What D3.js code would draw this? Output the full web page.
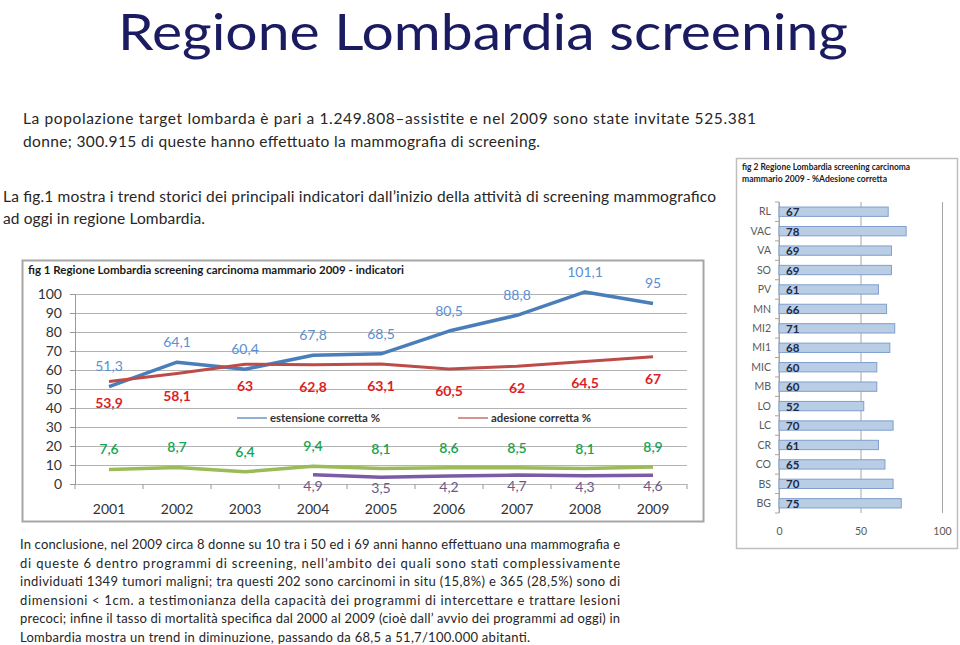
<!DOCTYPE html>
<html><head><meta charset="utf-8">
<script src="https://cdn.jsdelivr.net/npm/d3@7"></script>
<style>body{margin:0;background:#fff}svg{display:block}</style>
</head><body>
<svg id="c" width="960" height="645"></svg>
<script>
// ---- data ----
const years = ["2001","2002","2003","2004","2005","2006","2007","2008","2009"];
const estensione = [51.3,64.1,60.4,67.8,68.5,80.5,88.8,101.1,95];
const adesione = [53.9,58.1,63,62.8,63.1,60.5,62,64.5,67];
const serieVerde = [7.6,8.7,6.4,9.4,8.1,8.6,8.5,8.1,8.9];
const serieViola = [null,null,null,4.9,3.5,4.2,4.7,4.3,4.6];
const yTicks1 = [0,10,20,30,40,50,60,70,80,90,100];
const aree = ["RL","VAC","VA","SO","PV","MN","MI2","MI1","MIC","MB","LO","LC","CR","CO","BS","BG"];
const adesioneAree = [67,78,69,69,61,66,71,68,60,60,52,70,61,65,70,75];
const xTicks2 = [0,50,100];

const FONT = "Lato, 'Open Sans', sans-serif";
const svg = d3.select("#c").style("font-family", FONT);

// ---- title & text ----
svg.append("text").attr("x",118).attr("y",50).attr("font-size",50).attr("fill","#1b1b62")
  .attr("textLength",730).attr("lengthAdjust","spacingAndGlyphs").text("Regione Lombardia screening");

function line(x,y,txt,size,len){
  const t = svg.append("text").attr("x",x).attr("y",y).attr("font-size",size).attr("fill","#262626").text(txt);
  if(len) t.attr("textLength",len).attr("lengthAdjust","spacing");
  return t;
}
line(23,124,"La popolazione target lombarda è pari a 1.249.808–assistite e nel 2009 sono state invitate 525.381",15.5,733);
line(23,147,"donne;  300.915 di queste hanno effettuato la mammografia di screening.",15.5,517);
line(3,202,"La fig.1 mostra i trend storici dei principali indicatori dall’inizio della attività di screening mammografico",15.5,713);
line(3,224,"ad oggi in regione Lombardia.",15.5,202);

const bottom = [
 ["In conclusione, nel 2009 circa 8 donne su 10 tra i 50 ed i 69 anni hanno effettuano una mammografia e",600],
 ["di queste 6 dentro programmi di screening, nell’ambito dei quali sono stati complessivamente",600],
 ["individuati 1349 tumori maligni; tra questi 202 sono carcinomi in situ (15,8%) e 365 (28,5%) sono di",600],
 ["dimensioni < 1cm. a testimonianza della capacità dei  programmi di intercettare  e trattare lesioni",600],
 ["precoci; infine il tasso di mortalità specifica  dal 2000 al 2009 (cioè dall’ avvio dei programmi ad oggi) in",600],
 ["Lombardia mostra un trend in diminuzione,  passando da 68,5 a 51,7/100.000 abitanti.",510]
];
bottom.forEach((b,i)=> line(20,549+i*18.5,b[0],13,b[1]));

// ---- fig 1 ----
const g1 = svg.append("g");
g1.append("rect").attr("x",22.5).attr("y",260.5).attr("width",681).attr("height",261)
  .attr("fill","#fff").attr("stroke","#a6a6a6").attr("stroke-width",2);
g1.append("text").attr("x",28).attr("y",274).attr("font-size",11).attr("font-weight",700).attr("fill","#1a1a1a")
  .attr("textLength",376).attr("lengthAdjust","spacingAndGlyphs")
  .text("fig 1 Regione Lombardia screening carcinoma mammario  2009 - indicatori");

const x1 = d3.scaleBand().domain(years).range([75,687]);
const y1 = d3.scaleLinear().domain([0,100]).range([484,294]);
const cx = d => x1(d) + x1.bandwidth()/2;

// grid
g1.append("g").attr("transform","translate(75,0)")
  .call(d3.axisLeft(y1).tickValues(yTicks1).tickSize(-612).tickFormat(""))
  .call(g=>{g.select(".domain").remove(); g.selectAll("line").attr("stroke","#b3b3b3");});
// y axis
g1.append("g").attr("transform","translate(75,0)")
  .call(d3.axisLeft(y1).tickValues(yTicks1).tickSize(5).tickPadding(8).tickFormat(d3.format("d")))
  .call(g=>{g.select(".domain").attr("stroke","#999");
    g.selectAll("line").attr("stroke","#999");
    g.selectAll("text").attr("font-size",14).attr("fill","#333").attr("font-family",FONT);});
// x axis
g1.append("g").attr("transform","translate(0,484)")
  .call(d3.axisBottom(x1).tickSize(0).tickPadding(20))
  .call(g=>{g.select(".domain").remove();
    g.selectAll("text").attr("font-size",14).attr("fill","#333").attr("font-family",FONT);});
g1.append("g").selectAll("line").data(years.concat(["end"])).join("line")
  .attr("x1",d=> d==="end"? x1.range()[1] : x1(d)).attr("x2",d=> d==="end"? x1.range()[1] : x1(d))
  .attr("y1",484).attr("y2",489).attr("stroke","#999");

const series = [
  {vals:estensione, stroke:"#4a7ebb", lab:"#5b8fd0", w:3.5, dy:-20, bold:400},
  {vals:adesione,   stroke:"#be4b48", lab:"#dc1f26", w:3,   dy:22,  bold:700},
  {vals:serieVerde, stroke:"#9bbb59", lab:"#12a54f", w:3.5, dy:-20, bold:600},
  {vals:serieViola, stroke:"#7b5ba6", lab:"#6a5a8a", w:3.5, dy:11,  bold:400}
];
const fmt = v => String(v).replace(".",",");
series.forEach(s=>{
  const pts = years.map((yr,i)=>({yr, v:s.vals[i]}));
  const ln = d3.line().defined(d=>d.v!=null).x(d=>cx(d.yr)).y(d=>y1(d.v));
  g1.append("path").datum(pts).attr("d",ln).attr("fill","none")
    .attr("stroke",s.stroke).attr("stroke-width",s.w).attr("stroke-linejoin","round");
  g1.append("g").selectAll("text").data(pts.filter(d=>d.v!=null)).join("text")
    .attr("x",d=>cx(d.yr)).attr("y",d=>y1(d.v)+s.dy).attr("dy","0.35em")
    .attr("text-anchor","middle").attr("font-size",14).attr("font-weight",s.bold)
    .attr("fill",s.lab).text(d=>fmt(d.v));
});

// legend
const legend = [
  {x:237, label:"estensione corretta %", c:"#4a7ebb", len:110},
  {x:458, label:"adesione corretta %", c:"#be4b48", len:100}
];
legend.forEach(l=>{
  g1.append("line").attr("x1",l.x).attr("x2",l.x+30).attr("y1",418).attr("y2",418).attr("stroke",l.c).attr("stroke-width",1.2);
  g1.append("text").attr("x",l.x+33).attr("y",418).attr("dy","0.35em").attr("font-size",10.5).attr("font-weight",700)
    .attr("fill","#333").attr("textLength",l.len).attr("lengthAdjust","spacingAndGlyphs").text(l.label);
});

// ---- fig 2 ----
const g2 = svg.append("g");
g2.append("rect").attr("x",736.5).attr("y",158.5).attr("width",221).attr("height",390)
  .attr("fill","#fff").attr("stroke","#bfbfbf").attr("stroke-width",1.5);
g2.append("text").attr("x",742).attr("y",170).attr("font-size",8.5).attr("font-weight",700).attr("fill","#222")
  .attr("textLength",168).attr("lengthAdjust","spacingAndGlyphs").text("fig 2 Regione Lombardia screening carcinoma");
g2.append("text").attr("x",742).attr("y",182).attr("font-size",8.5).attr("font-weight",700).attr("fill","#222")
  .attr("textLength",145).attr("lengthAdjust","spacingAndGlyphs").text("mammario 2009 -  %Adesione corretta");

const y2 = d3.scaleBand().domain(aree).range([202,513]).paddingInner(0.52).paddingOuter(0.26);
const x2 = d3.scaleLinear().domain([0,100]).range([779,942]);

g2.append("g").attr("transform","translate(0,513)")
  .call(d3.axisBottom(x2).tickValues(xTicks2).tickSize(-311).tickFormat(""))
  .call(g=>{g.select(".domain").remove(); g.selectAll("line").attr("stroke","#a6a6a6");});
g2.append("g").attr("transform","translate(0,513)")
  .call(d3.axisBottom(x2).tickValues(xTicks2).tickSize(0).tickPadding(15))
  .call(g=>{g.select(".domain").remove();
    g.selectAll("text").attr("font-size",10.5).attr("fill","#595959").attr("font-family",FONT);});
// left axis
g2.append("line").attr("x1",779).attr("x2",779).attr("y1",202).attr("y2",513).attr("stroke","#a6a6a6");
g2.append("g").selectAll("line").data(aree.concat(["end"])).join("line")
  .attr("y1",d=> d==="end"?513:y2(d)-y2.step()*y2.paddingInner()/2)
  .attr("y2",d=> d==="end"?513:y2(d)-y2.step()*y2.paddingInner()/2)
  .attr("x1",775).attr("x2",779).attr("stroke","#a6a6a6");

g2.append("g").selectAll("rect").data(aree).join("rect")
  .attr("x",x2(0)).attr("y",d=>y2(d)).attr("height",y2.bandwidth())
  .attr("width",(d,i)=>x2(adesioneAree[i])-x2(0))
  .attr("fill","#b9cde5").attr("stroke","#7f9fcf").attr("stroke-width",1);
g2.append("g").selectAll("text").data(aree).join("text")
  .attr("x",771).attr("y",d=>y2(d)+y2.bandwidth()/2).attr("dy","0.35em")
  .attr("text-anchor","end").attr("font-size",10.5).attr("fill","#595959").text(d=>d);
g2.append("g").selectAll("text").data(aree).join("text")
  .attr("x",786).attr("y",d=>y2(d)+y2.bandwidth()/2).attr("dy","0.4em")
  .attr("font-size",11.5).attr("font-weight",700).attr("fill","#1c2a48").text((d,i)=>adesioneAree[i]);
</script>
</body></html>
